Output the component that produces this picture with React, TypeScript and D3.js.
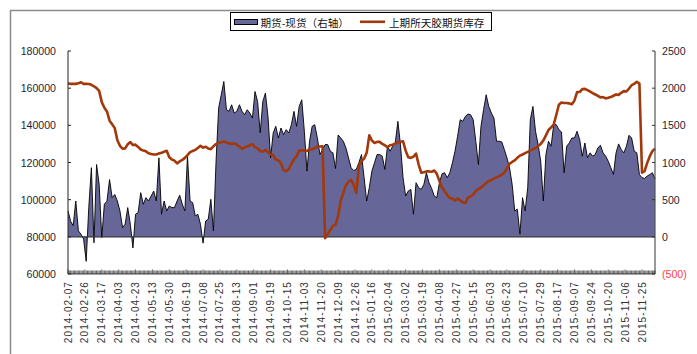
import React from 'react';
import * as d3 from 'd3';

// Category axis labels (one label every 13 trading days)
const tickLabels = [
  '2014-02-07', '2014-02-26', '2014-03-17', '2014-04-03', '2014-04-23', '2014-05-13',
  '2014-05-30', '2014-06-19', '2014-07-08', '2014-07-25', '2014-08-13', '2014-09-01',
  '2014-09-19', '2014-10-15', '2014-11-03', '2014-11-20', '2014-12-09', '2014-12-26',
  '2015-01-16', '2015-02-04', '2015-03-02', '2015-03-19', '2015-04-08', '2015-04-27',
  '2015-05-15', '2015-06-03', '2015-06-23', '2015-07-10', '2015-07-29', '2015-08-17',
  '2015-09-07', '2015-09-24', '2015-10-20', '2015-11-06', '2015-11-25',
];
const categoryCount = 453;
const labelEvery = 13;
const sampleStep = 2; // one stored value per two trading days

// 期货-现货 spread (right axis)
const spread = [
  350, 210, 150, 482, 80, 35, -30, -330, 395, 930, -80, 973, 705, -10, 440, 480, 770, 527, 570, 482,
  348, 125, 170, 393, 170, -150, 304, 326, 594, 438, 527, 482, 549, 616, 482, 1063, 304, 482, 348, 415,
  393, 393, 482, 560, 440, 348, 1085, 482, 460, 281, 304, 170, -85, 214, 237, 505, 80, 1018, 1732, 1911,
  2090, 1710, 1688, 1777, 1665, 1688, 1777, 1688, 1643, 1710, 1665, 1598, 1955, 1821, 1400, 1821, 1933, 1621, 1063, 1397,
  1487, 1330, 1464, 1375, 1442, 1397, 1509, 1688, 1487, 1754, 1844, 1420, 884, 1286, 1487, 1509, 1330, 1107, 1174, 1241,
  1241, 1152, 1130, 920, 1370, 1330, 1286, 1197, 1063, 929, 893, 906, 1000, 1107, 795, 482, 661, 884, 996, 1107,
  1107, 1085, 906, 1219, 1152, 1219, 1263, 1554, 1241, 795, 549, 616, 638, 304, 728, 661, 638, 705, 862, 728,
  652, 549, 527, 728, 848, 862, 795, 862, 996, 1152, 1353, 1576, 1554, 1621, 1652, 1643, 1576, 1286, 973, 1487,
  1710, 1911, 1754, 1665, 1598, 1286, 1286, 1277, 1174, 1063, 929, 705, 348, 371, 36, 527, 348, 661, 1576, 1754,
  1420, 1241, 1018, 482, 1107, 1286, 1219, 1509, 1509, 1442, 1411, 862, 1219, 1263, 1330, 1330, 1420, 1308, 1085, 1263,
  1063, 1130, 1085, 1107, 1197, 1232, 1130, 1085, 1018, 929, 839, 1130, 1250, 1174, 1130, 1219, 1366, 1330, 1152, 1130,
  839, 795, 786, 817, 839, 862, 780,
];

// 上期所天胶期货库存 (left axis, tonnes)
const stock = [
  162700, 162300, 162300, 162300, 162600, 163200, 162300, 162300, 162200, 161800, 161000, 160000, 158500, 152500, 149500, 147500, 142500, 140600, 138500, 132000,
  129000, 127400, 127600, 129800, 131000, 129400, 129600, 128400, 127000, 126400, 126000, 125000, 124600, 124300, 124300, 124800, 125200, 125800, 126300, 122800,
  121600, 121000, 119500, 120600, 121400, 122500, 124000, 125600, 126200, 126800, 127800, 129000, 128000, 128500, 127500, 127200, 128700, 129900, 130600, 130900,
  131300, 130800, 130300, 130000, 130300, 129600, 128500, 127400, 128200, 128600, 129300, 129900, 128300, 127600, 126200, 125900, 126800, 125500, 124300, 123900,
  121600, 121100, 119500, 115900, 115300, 116400, 119300, 121600, 123400, 126400, 126600, 126400, 126200, 127000, 127100, 127700, 128700, 128600, 128700, 79300,
  81400, 83700, 85900, 86600, 91200, 99300, 103700, 107700, 109500, 110700, 108000, 103700, 118000, 120700, 122100, 125200, 134600, 131800, 130500, 131100,
  131100, 130000, 129300, 128200, 129300, 129600, 130200, 130900, 131200, 131400, 126400, 122800, 122500, 123200, 124800, 118900, 114500, 114800, 115200, 115200,
  115000, 115700, 113900, 110000, 106500, 104500, 102500, 101000, 100500, 99500, 100700, 99600, 98600, 98200, 101100, 101800, 102800, 104600, 105700, 106400,
  107800, 108900, 110000, 110500, 111400, 112000, 112700, 113400, 114500, 116800, 119300, 120300, 121100, 122500, 123700, 124300, 125000, 125700, 126400, 127100,
  127700, 128900, 130000, 131800, 134600, 137500, 138900, 140400, 145700, 151100, 152300, 152000, 152000, 151800, 151400, 153400, 157900, 157900, 159500, 159600,
  158900, 158200, 157300, 156600, 155900, 155000, 155200, 154500, 154800, 155200, 155900, 156600, 156400, 157500, 158400, 158200, 159800, 161600, 162300, 163400,
  162500, 114500, 115300, 119800, 123400, 126100, 127500,
];

const leftTicks = [60000, 80000, 100000, 120000, 140000, 160000, 180000];
const rightTicks = [-500, 0, 500, 1000, 1500, 2000, 2500];
const legendSpread = '期货-现货（右轴）';
const legendStock = '上期所天胶期货库存';

const W = 697;
const H = 354;
const plot = { left: 68, right: 655, top: 51, bottom: 274 };
const AREA_FILL = '#666699';
const LINE_COLOR = '#a3390b';
const LABEL_FONT = '"Liberation Sans", Arial, sans-serif';
const CJK_FONT = '"Noto Sans CJK SC", sans-serif';

export default function App() {
  const x = d3.scaleLinear().domain([0, categoryCount - 1]).range([plot.left, plot.right]);
  const yL = d3.scaleLinear().domain([60000, 180000]).range([plot.bottom, plot.top]);
  const yR = d3.scaleLinear().domain([-500, 2500]).range([plot.bottom, plot.top]);

  const areaGen = d3
    .area<number>()
    .x((_, i) => x(i * sampleStep))
    .y0(yR(0))
    .y1((d) => yR(d));
  const areaTop = d3
    .line<number>()
    .x((_, i) => x(i * sampleStep))
    .y((d) => yR(d));
  const stockLine = d3
    .line<number>()
    .x((_, i) => x(i * sampleStep))
    .y((d) => yL(d));

  const fmtRight = (v: number) => (v < 0 ? `(${Math.abs(v)})` : `${v}`);
  const catTicks = d3.range(categoryCount);

  return (
    <svg
      width={W}
      height={H}
      style={{ position: 'absolute', left: 0, top: 0, display: 'block', background: '#fff' }}
    >
      {/* outer frame */}
      <rect x={10.5} y={10.5} width={W + 10} height={H + 10} fill="none" stroke="#8c8c8c" strokeWidth={1.5} />

      {/* spread area on the right axis */}
      <path d={areaGen(spread) || ''} fill={AREA_FILL} />
      <path d={areaTop(spread) || ''} fill="none" stroke="#000" strokeWidth={0.9} />
      <line x1={plot.left} x2={plot.right} y1={yR(0)} y2={yR(0)} stroke="#333" strokeWidth={1.3} />

      {/* inventory line on the left axis */}
      <path d={stockLine(stock) || ''} fill="none" stroke={LINE_COLOR} strokeWidth={2.6} strokeLinejoin="round" />

      {/* left axis */}
      <line x1={plot.left} x2={plot.left} y1={plot.top} y2={plot.bottom} stroke="#222" strokeWidth={1} />
      {leftTicks.map((t) => (
        <g key={`l${t}`}>
          <line x1={plot.left} x2={plot.left + 3} y1={yL(t)} y2={yL(t)} stroke="#222" />
          <text
            x={56}
            y={yL(t)}
            textAnchor="end"
            dominantBaseline="central"
            fontFamily={LABEL_FONT}
            fontSize={10.6}
            fill="#1f1f33"
          >
            {t}
          </text>
        </g>
      ))}

      {/* right axis */}
      <line x1={plot.right} x2={plot.right} y1={plot.top} y2={plot.bottom} stroke="#555" strokeWidth={1.2} />
      {rightTicks.map((t) => (
        <g key={`r${t}`}>
          <line x1={plot.right - 3} x2={plot.right} y1={yR(t)} y2={yR(t)} stroke="#333" />
          <text
            x={662}
            y={yR(t)}
            dominantBaseline="central"
            fontFamily={LABEL_FONT}
            fontSize={10.6}
            fill={t < 0 ? '#ff4040' : '#1f1f33'}
          >
            {fmtRight(t)}
          </text>
        </g>
      ))}

      {/* category axis */}
      <line x1={plot.left} x2={plot.right} y1={plot.bottom} y2={plot.bottom} stroke="#444" strokeWidth={1} />
      {catTicks.map((i) => (
        <line
          key={`c${i}`}
          x1={x(i)}
          x2={x(i)}
          y1={plot.bottom - (i % labelEvery === 0 ? 4.5 : 3.5)}
          y2={plot.bottom}
          stroke="#222"
          strokeWidth={0.7}
        />
      ))}
      {tickLabels.map((lab, j) => (
        <text
          key={lab}
          transform={`translate(${x(j * labelEvery)},${281}) rotate(-90)`}
          textAnchor="end"
          dominantBaseline="central"
          fontFamily={LABEL_FONT}
          fontSize={10}
          letterSpacing={1.1}
          fill="#333"
        >
          {lab}
        </text>
      ))}

      {/* legend */}
      <rect x={230.5} y={12.5} width={261} height={18} fill="#fff" stroke="#000" strokeWidth={1} />
      <rect x={234.5} y={19.5} width={23} height={5} fill={AREA_FILL} stroke="#000" strokeWidth={1} />
      <text x={260.5} y={22} dominantBaseline="central" fontFamily={CJK_FONT} fontSize={10.6} fill="#111">
        {legendSpread}
      </text>
      <line x1={360} x2={385} y1={21.8} y2={21.8} stroke={LINE_COLOR} strokeWidth={2.6} />
      <text x={389} y={22} dominantBaseline="central" fontFamily={CJK_FONT} fontSize={10.6} fill="#111">
        {legendStock}
      </text>
    </svg>
  );
}
